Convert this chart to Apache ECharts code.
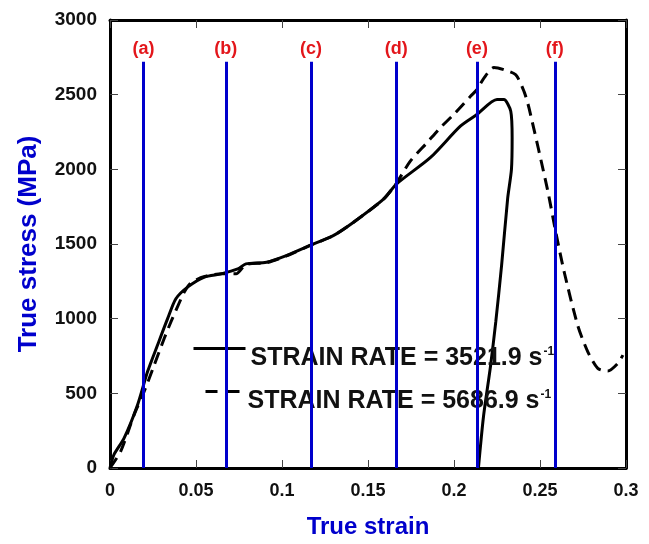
<!DOCTYPE html>
<html>
<head>
<meta charset="utf-8">
<script src="https://cdn.jsdelivr.net/npm/echarts@6/dist/echarts.min.js"></script>
<style>
  html, body { margin: 0; padding: 0; background: #fff; }
  #chart { width: 649px; height: 544px; }
</style>
</head>
<body>
<div id="chart"></div>
<script>
// strain rate 3521.9 /s (solid)
const strainSlow = [0, 0.0023, 0.0082, 0.016, 0.0218, 0.0276, 0.0335, 0.0383, 0.0451, 0.0549, 0.0646, 0.0743,
  0.079, 0.091, 0.1025, 0.116, 0.1298, 0.1414, 0.159, 0.1664, 0.1862, 0.2037, 0.2133, 0.225, 0.229, 0.233,
  0.2338, 0.2334, 0.2312, 0.2277, 0.2243, 0.2212, 0.2171, 0.2142];
const stressSlow = [0, 89, 200, 422, 644, 822, 1000, 1133, 1211, 1278, 1300, 1333,
  1367, 1378, 1422, 1489, 1556, 1644, 1800, 1900, 2078, 2289, 2367, 2467, 2467, 2389,
  2211, 2000, 1805, 1360, 980, 680, 340, 0];

// strain rate 5686.9 /s (dashed)
const strainFast = [0, 0.0062, 0.014, 0.0198, 0.0257, 0.0315, 0.0354, 0.0413, 0.0432, 0.047, 0.055, 0.065,
  0.0733, 0.079, 0.091, 0.1025, 0.116, 0.1298, 0.1414, 0.159, 0.1664, 0.1746, 0.1843, 0.192, 0.1998, 0.2096,
  0.2133, 0.2174, 0.2232, 0.229, 0.2359, 0.2407, 0.2436, 0.2543, 0.2592, 0.2641, 0.2719, 0.2778, 0.2836,
  0.2894, 0.2952, 0.2982];
const stressFast = [0, 111, 356, 511, 689, 867, 978, 1133, 1178, 1240, 1282, 1300,
  1300, 1362, 1375, 1420, 1489, 1556, 1644, 1800, 1905, 2055, 2178, 2278, 2367, 2489,
  2533, 2611, 2682, 2667, 2633, 2522, 2411, 1867, 1578, 1311, 956, 778, 667,
  649, 700, 756];

const rateNames = ['STRAIN RATE = 3521.9 s', 'STRAIN RATE = 5686.9 s'];

// vertical markers
const markStrain = [0.0195, 0.0673, 0.1168, 0.1664, 0.2133, 0.2586];
const markLabels = ['(a)', '(b)', '(c)', '(d)', '(e)', '(f)'];
const markTop = 2720;

const xTickLabels = ['0', '0.05', '0.1', '0.15', '0.2', '0.25', '0.3'];
const yTickLabels = ['0', '500', '1000', '1500', '2000', '2500', '3000'];

const font = "'Liberation Sans', Arial, Helvetica, sans-serif";
const blue = '#0000cc';

function pairs(xs, ys) {
  return xs.map((x, i) => [x, ys[i]]);
}

const chart = echarts.init(document.getElementById('chart'));

const tickStyle = { show: true, inside: true, length: 8, lineStyle: { color: '#444', width: 1 } };
const frameLine = { show: true, onZero: false, lineStyle: { color: '#000', width: 3 } };

function legendFor(name, left, top, width, lineStyle) {
  return {
    data: [name],
    left: left,
    top: top,
    padding: 0,
    orient: 'vertical',
    itemWidth: width,
    itemHeight: 14,
    selectedMode: false,
    lineStyle: lineStyle,
    // hide the circle ECharts puts in the middle of a line icon
    itemStyle: { color: 'rgba(0,0,0,0)', borderColor: 'rgba(0,0,0,0)', borderWidth: 0 },
    formatter: n => '{t|' + n + '}{s|-1}',
    textStyle: {
      padding: [20, 0, 0, 0],
      rich: {
        t: { fontFamily: font, fontSize: 25, fontWeight: 'bold', color: '#111' },
        s: { fontFamily: font, fontSize: 12, fontWeight: 'bold', color: '#111', verticalAlign: 'top', padding: [0, 0, 0, 1] }
      }
    }
  };
}

chart.setOption({
  animation: false,
  backgroundColor: '#fff',
  grid: { left: 110, right: 23, top: 20, bottom: 73 },
  legend: [
    legendFor(rateNames[0], 192, 343, 52, { width: 3 }),
    legendFor(rateNames[1], 204, 386, 37, { width: 3, type: [12, 10] })
  ],
  xAxis: [{
    type: 'value',
    min: 0, max: 0.3, interval: 0.05,
    name: 'True strain',
    nameLocation: 'middle',
    nameGap: 47,
    nameTextStyle: { fontFamily: font, fontSize: 24, fontWeight: 'bold', color: blue },
    axisLine: frameLine,
    axisTick: tickStyle,
    splitLine: { show: false },
    axisLabel: {
      margin: 14,
      fontFamily: font, fontSize: 18, fontWeight: 'bold', color: '#111',
      formatter: v => xTickLabels[Math.round(v / 0.05)]
    }
  }, {
    type: 'value', position: 'top',
    min: 0, max: 0.3, interval: 0.05,
    axisLine: frameLine, axisTick: tickStyle,
    axisLabel: { show: false }, splitLine: { show: false }
  }],
  yAxis: [{
    type: 'value',
    min: 0, max: 3000, interval: 500,
    name: 'True stress (MPa)',
    nameLocation: 'middle',
    nameGap: 68,
    nameTextStyle: { fontFamily: font, fontSize: 26, fontWeight: 'bold', color: blue },
    axisLine: frameLine,
    axisTick: tickStyle,
    splitLine: { show: false },
    axisLabel: {
      margin: 13,
      fontFamily: font, fontSize: 19, fontWeight: 'bold', color: '#111',
      formatter: v => yTickLabels[Math.round(v / 500)]
    }
  }, {
    type: 'value', position: 'right',
    min: 0, max: 3000, interval: 500,
    axisLine: frameLine, axisTick: tickStyle,
    axisLabel: { show: false }, splitLine: { show: false }
  }],
  series: [{
    name: rateNames[0],
    type: 'line',
    data: pairs(strainSlow, stressSlow),
    symbol: 'none',
    smooth: 0.25,
    lineStyle: { color: '#000', width: 3 },
    itemStyle: { color: '#000' }
  }, {
    name: rateNames[1],
    type: 'line',
    data: pairs(strainFast, stressFast),
    symbol: 'none',
    smooth: 0.25,
    lineStyle: { color: '#000', width: 3, type: [12, 7] },
    itemStyle: { color: '#000' }
  }, {
    name: 'markers',
    type: 'line',
    data: [],
    z: 10,
    markLine: {
      silent: true,
      symbol: ['none', 'none'],
      lineStyle: { color: blue, width: 3, type: 'solid' },
      label: {
        show: true, position: 'end', distance: 4,
        formatter: '{b}',
        fontFamily: font, fontSize: 18, fontWeight: 'bold', color: '#e3161b'
      },
      data: markStrain.map((x, i) => [
        { name: markLabels[i], coord: [x, 0] },
        { coord: [x, markTop] }
      ])
    }
  }]
});
</script>
</body>
</html>
